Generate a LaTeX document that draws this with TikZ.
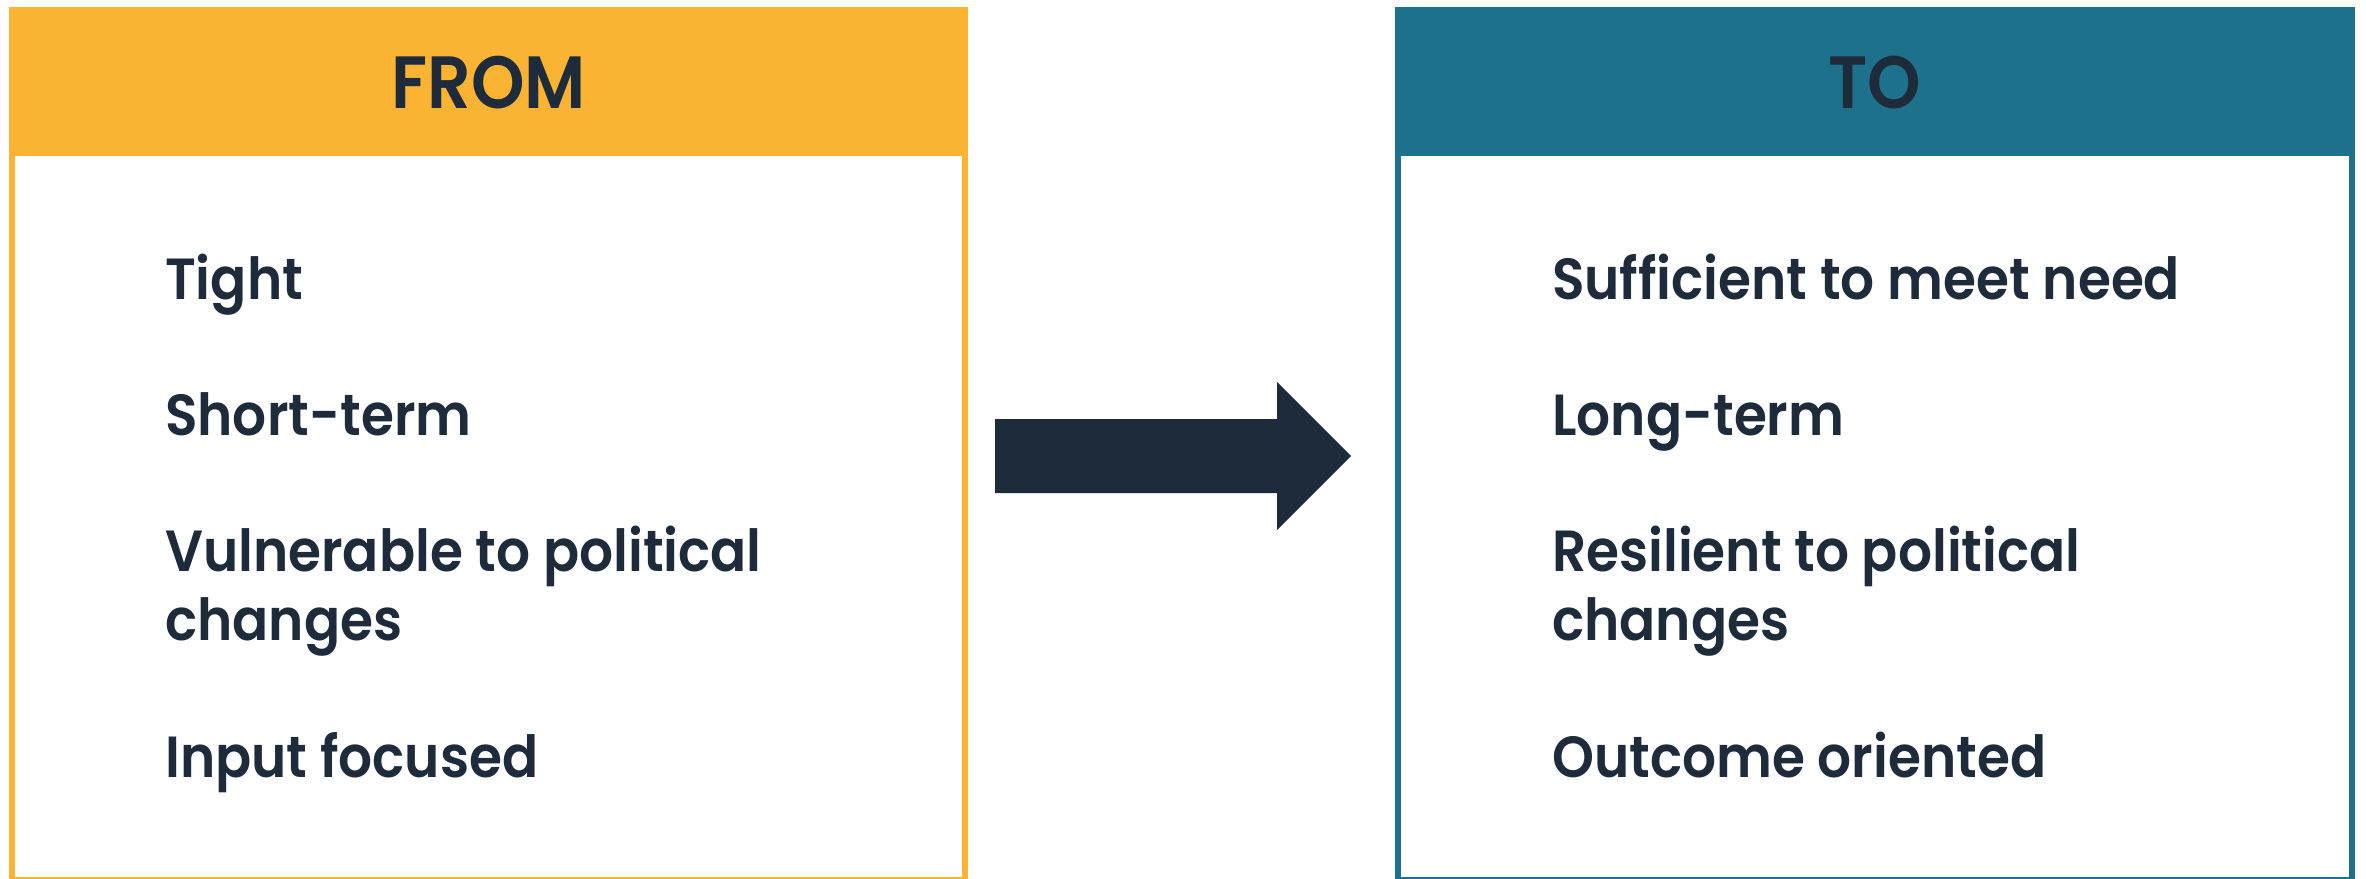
\documentclass[tikz,border=0pt]{standalone}
\usepackage{fontspec}
\setmainfont{Poppins}[BoldFont={Poppins SemiBold}, FakeStretch=0.92]
\definecolor{fromorange}{HTML}{FBB334}
\definecolor{toteal}{HTML}{1D718A}
\definecolor{navy}{HTML}{1E2B3B}
\begin{document}
\begin{tikzpicture}[x=1pt,y=-1pt,
  panel/.style={line width=6pt},
  header/.style={font=\fontsize{74}{80}\selectfont\bfseries, text=navy, anchor=base},
  item/.style={font=\fontsize{58}{69}\selectfont\bfseries, text=navy, anchor=base west, align=left, inner sep=0pt}]
  \useasboundingbox (0,0) rectangle (2366,878);

  % FROM panel
  \fill[fromorange] (9,7) rectangle (968,156);
  \draw[panel, fromorange] (12,10) rectangle (965,880);
  \node[header] (from) at (488.5,108) {FROM};
  \node[item] (f1) at (165,299) {Tight};
  \node[item] (f2) at (165,435) {Short-term};
  % two-line items: the base anchor sits on the last line
  \node[item] (f3) at (165,640) {Vulnerable to political\\changes};
  \node[item] (f4) at (165,777) {Input focused};

  % TO panel
  \fill[toteal] (1395,7) rectangle (2355,156);
  \draw[panel, toteal] (1398,10) rectangle (2352,880);
  \node[header] (to) at (1875,108) {TO};
  \node[item] (t1) at (1552,299) {Sufficient to meet need};
  \node[item] (t2) at (1552,435) {Long-term};
  \node[item] (t3) at (1552,640) {Resilient to political\\changes};
  \node[item] (t4) at (1552,777) {Outcome oriented};

  % block arrow between the panels
  \fill[navy] (995,419) -- (1277,419) -- (1277,382) -- (1351,456)
    -- (1277,530) -- (1277,493) -- (995,493) -- cycle;
\end{tikzpicture}
\end{document}
